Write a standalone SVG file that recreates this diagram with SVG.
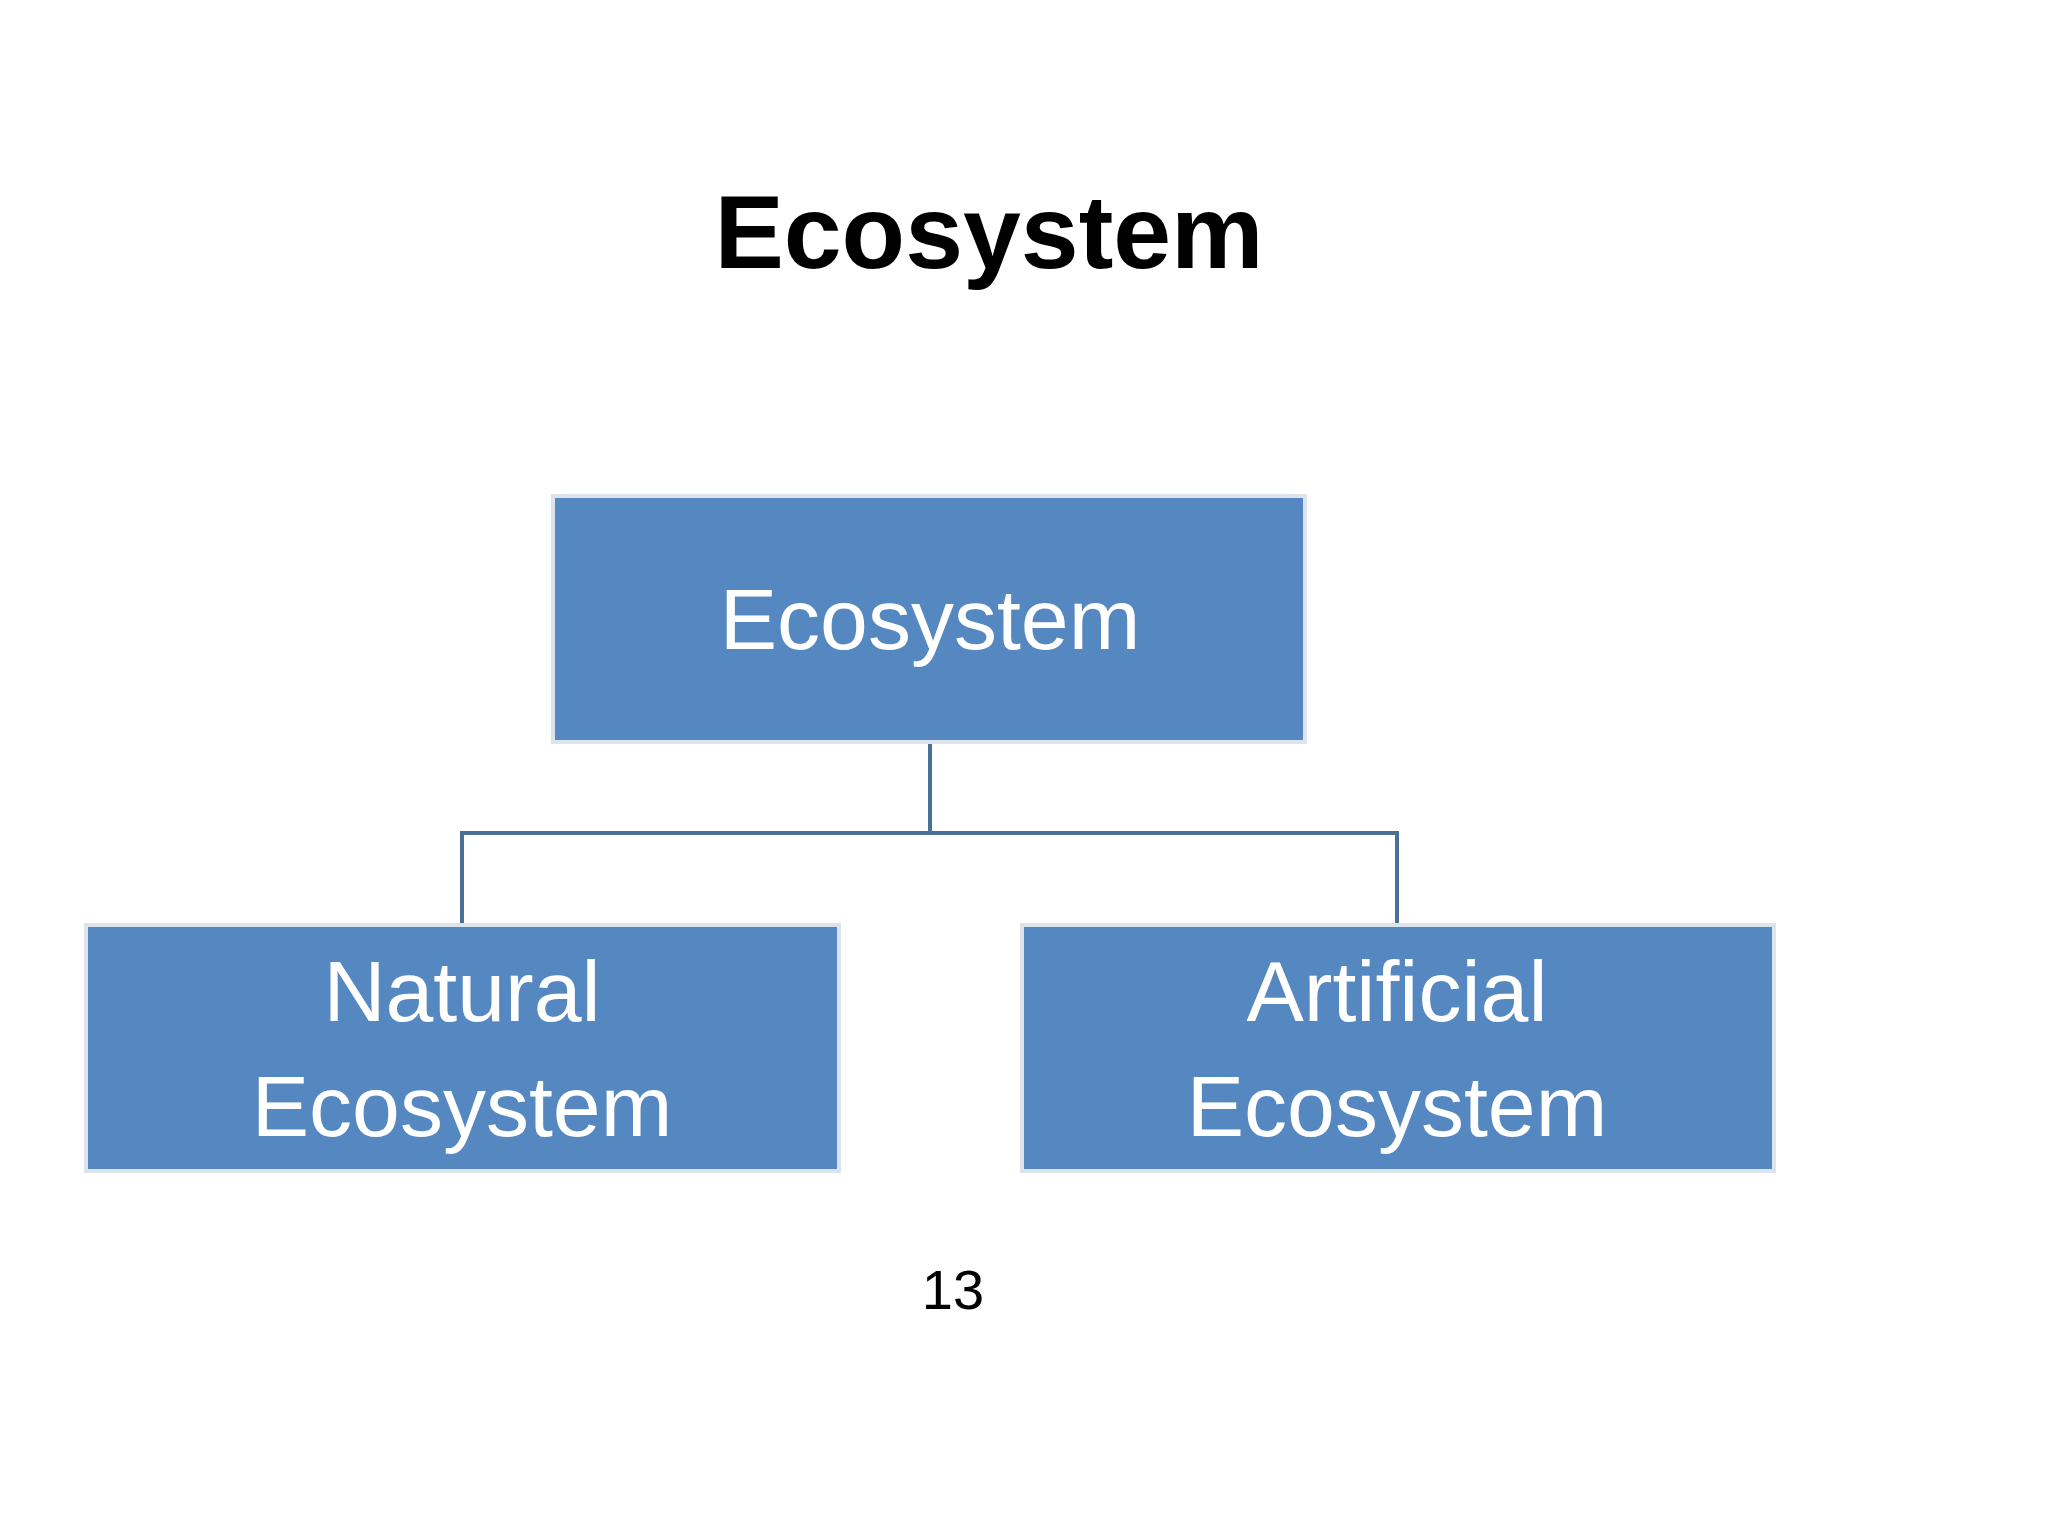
<svg xmlns="http://www.w3.org/2000/svg" width="2048" height="1536" viewBox="0 0 2048 1536">
<style>
.box{fill:#5587C0;stroke:#dde3ea;stroke-width:4}
.lbl{font-family:"Liberation Sans",Arial,sans-serif;font-size:86px;fill:#fff;text-anchor:middle}
.con{fill:none;stroke:#4A6F9A;stroke-width:4}
</style>
<rect width="2048" height="1536" fill="#fff"/>
<text x="989" y="268" font-family="'Liberation Sans',Arial,sans-serif" font-weight="bold" font-size="104" text-anchor="middle" fill="#000">Ecosystem</text>
<g id="connectors">
<path class="con" d="M930 744V833M462 923V833H1397V923"/>
</g>
<g id="root"><rect class="box" x="553" y="496" width="752" height="246"/><text class="lbl" x="930" y="649">Ecosystem</text></g>
<g id="natural"><rect class="box" x="86" y="925" width="753" height="246"/><text class="lbl" x="462" y="1021">Natural</text><text class="lbl" x="462" y="1136">Ecosystem</text></g>
<g id="artificial"><rect class="box" x="1022" y="925" width="752" height="246"/><text class="lbl" x="1397" y="1021">Artificial</text><text class="lbl" x="1397" y="1136">Ecosystem</text></g>
<text x="953" y="1309" font-family="'Liberation Sans',Arial,sans-serif" font-size="56" text-anchor="middle" fill="#000">13</text>
</svg>
